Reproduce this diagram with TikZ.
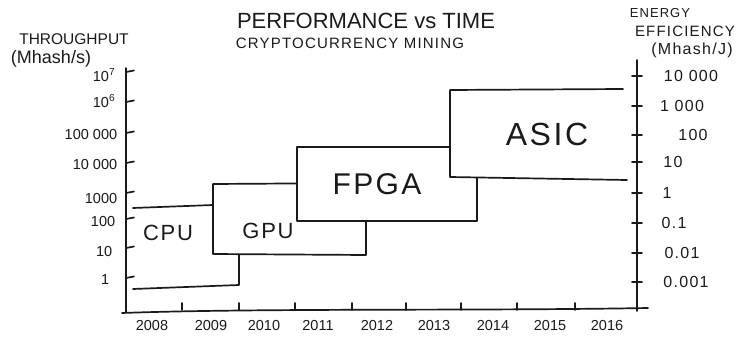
\documentclass[tikz,border=0pt]{standalone}
\usepackage{fontspec}
\setmainfont{Liberation Sans}
\newfontfamily\handwide[LetterSpace=8]{Liberation Sans}
\definecolor{ink}{HTML}{1A1A1A}
\begin{document}
\begin{tikzpicture}[x=1pt,y=-1pt,
  line width=1.7pt, line cap=round, line join=round,
  every node/.style={text=ink, inner sep=0pt},
  ink/.style={draw=ink},
  boxfill/.style={draw=ink, fill=white},
  lefttick/.style={font=\fontsize{14.5}{14.5}\selectfont, anchor=east},
  righttick/.style={font=\handwide\fontsize{16}{16}\selectfont},
  yearlab/.style={font=\fontsize{14.5}{14.5}\selectfont},
  boxlab/.style={font=\handwide\fontsize{#1}{#1}\selectfont}
]
\useasboundingbox (0,0) rectangle (753,337);

% titles
\node (title) at (366,21) {\fontsize{22}{22}\selectfont PERFORMANCE vs TIME};
\node (subtitle) at (350,43) {\handwide\fontsize{15}{15}\selectfont CRYPTOCURRENCY MINING};
\node (ltitle1) at (74,39) {\fontsize{15.5}{15.5}\selectfont THROUGHPUT};
\node (ltitle2) at (51,59) {\fontsize{18}{18}\selectfont (Mhash/s)};
\node (rtitle1) at (660,13) {\handwide\fontsize{13}{13}\selectfont ENERGY};
\node (rtitle2) at (685,31) {\handwide\fontsize{15}{15}\selectfont EFFICIENCY};
\node (rtitle3) at (692,50) {\handwide\fontsize{16}{16}\selectfont (Mhash/J)};

% left axis
\coordinate (LAtop) at (126,68);
\coordinate (LAbot) at (126,312);
\draw[ink] (LAtop) -- (LAbot);
\foreach \y in {72,102,133,163,193,219,248,278}
  \draw[ink] (126,\y) -- (134,\y-1.5);
\node[lefttick] (l7) at (116,75) {10\textsuperscript{7}};
\node[lefttick] (l6) at (116,101) {10\textsuperscript{6}};
\node[lefttick] (l5) at (118,135) {100 000};
\node[lefttick] (l4) at (118,165) {10 000};
\node[lefttick] (l3) at (118,199) {1000};
\node[lefttick] (l2) at (116,222) {100};
\node[lefttick] (l1) at (113,252) {10};
\node[lefttick] (l0) at (110,280) {1};

% x axis
\coordinate (XAl) at (122,313);
\coordinate (XAr) at (648,308);
\draw[ink] (XAl) .. controls (260,308) and (480,311) .. (XAr);
\foreach \x in {182,239,295,352,406,461,517,575}
  \draw[ink] (\x,303) -- (\x,310);
\foreach \x/\yr in {152/2008,211/2009,264/2010,318/2011,377/2012,434/2013,493/2014,550/2015,607/2016}
  \node[yearlab] (y\yr) at (\x,326) {\yr};

% right axis
\coordinate (RAtop) at (637,60);
\coordinate (RAbot) at (637,311);
\draw[ink] (RAtop) -- (RAbot);
\foreach \y in {76,106,135,162,193,223,253,282}
  \draw[ink] (632,\y) -- (642,\y);
\node[righttick] (r4) at (691,76) {10 000};
\node[righttick] (r3) at (682,106) {1 000};
\node[righttick] (r2) at (693,135) {100};
\node[righttick] (r1) at (673,162) {10};
\node[righttick] (r0) at (667,193) {1};
\node[righttick] (rm1) at (674,223) {0.1};
\node[righttick] (rm2) at (682,253) {0.01};
\node[righttick] (rm3) at (686,282) {0.001};

% CPU
\draw[ink] (133,208) -- (213,205);
\draw[ink] (133,289) -- (239,285) -- (239,250);
% GPU
\filldraw[boxfill] (213,184) -- (366,183) -- (366,255) -- (213,254) -- cycle;
% FPGA
\filldraw[boxfill] (297,147) -- (477,147) -- (477,221) -- (297,221) -- cycle;
% ASIC
\filldraw[boxfill] (623,89) -- (450,90) -- (450,177) -- (627,180);

\node[boxlab=22] (cpu) at (168,233) {CPU};
\node[boxlab=22] (gpu) at (268,231) {GPU};
\node[boxlab=30] (fpga) at (377,184) {FPGA};
\node[boxlab=32] (asic) at (547,134) {ASIC};
\end{tikzpicture}
\end{document}
